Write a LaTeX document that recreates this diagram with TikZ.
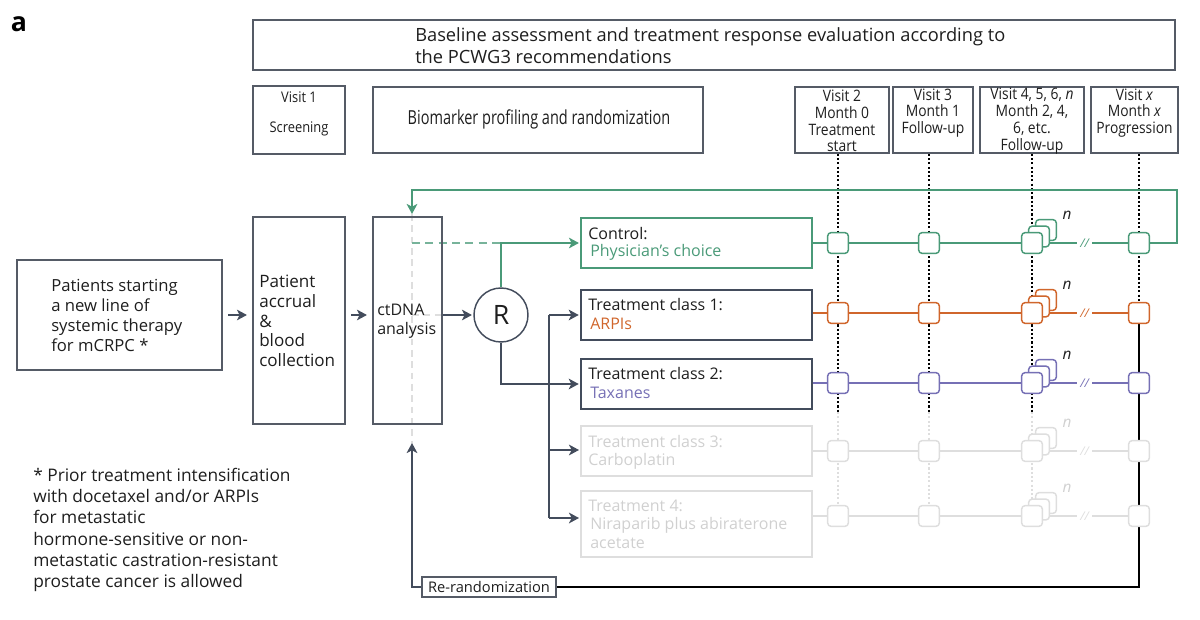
\documentclass[tikz,border=0pt]{standalone}
\usepackage{fontspec}
\setmainfont{Open Sans}
\usepackage{graphicx}
\usetikzlibrary{arrows.meta,fit,backgrounds}
\definecolor{cgreen}{HTML}{4A9A78}
\definecolor{corange}{HTML}{D0662C}
\definecolor{cpurple}{HTML}{7670B5}
\definecolor{cslate}{HTML}{434C5C}
\definecolor{cbox}{HTML}{555B66}
\definecolor{clight}{HTML}{DEDEDE}
\definecolor{clighttext}{HTML}{D0D0D0}
\definecolor{ctext}{HTML}{1E1E1E}
\newcommand\vfont{\fontsize{11.8}{12.6}\selectfont}
\newcommand\tfont{\fontsize{12}{14}\selectfont}
\newcommand\vl[1]{\scalebox{0.88}[1]{#1}}
\newcommand\trow[6]{%
  \node[mk=#1] (#3s3) at (1046,#2-13) {};
  \node[mk=#1] (#3s2) at (1039,#2-6.5) {};
  \node[mk=#1] (#3a) at (838,#2) {};
  \node[mk=#1] (#3b) at (929,#2) {};
  \node[mk=#1] (#3c) at (1032,#2) {};
  \node[mk=#1] (#3d) at (1139,#2) {};
  \node[brk, text=#1] (#3k) at (1084.5,#2) {//};
  \node[ntxt, text=#6] (#3n) at (1067,#2-28) {n};
  \coordinate (#3e) at (1077,#2);
  \coordinate (#3f) at (1092,#2);
  \begin{pgfonlayer}{background}
    \draw[#1, line width=#5] (#4.east |- #3a) -- (#3e) (#3f) -- (#3d);
  \end{pgfonlayer}
}
\begin{document}
\begin{tikzpicture}[x=0.75pt,y=-0.75pt,
  box/.style={draw=cbox, line width=1.1pt, inner sep=0pt},
  txt/.style={inner sep=0pt, align=left, anchor=west, text=ctext},
  ctxt/.style={inner sep=0pt, align=center, text=ctext},
  mk/.style={draw=#1, fill=white, line width=1.1pt, rounded corners=2.5pt, minimum size=15.5pt, inner sep=0pt},
  arr/.style={draw=cslate, line width=1.7pt, -{Stealth[length=7.5pt,width=8pt,inset=2pt]}},
  garr/.style={draw=cgreen, line width=1.5pt, -{Stealth[length=7.5pt,width=8pt,inset=2pt]}},
  dotline/.style={line width=1.6pt, dash pattern=on 1.6pt off 1.6pt},
  brk/.style={inner sep=0pt, font=\fontsize{9}{9}\selectfont\itshape},
  ntxt/.style={inner sep=0pt, font=\fontsize{11.5}{11.5}\selectfont\itshape},
]
\useasboundingbox (0,0) rectangle (1200,620);

% label
\node[inner sep=0pt, font=\fontsize{20}{20}\selectfont\bfseries, text=black] (lbl) at (19,24) {a};

% header boxes
\node[box, fit={(253,20) (1175,70)}] (top) {};
\node[txt, font=\fontsize{13.7}{16.5}\selectfont] (toptxt) at (415,46) {Baseline assessment and treatment response evaluation according to\\the PCWG3 recommendations};
\node[box, fit={(253,86) (345,154)}] (v1) {};
\node[ctxt, font=\fontsize{11}{12}\selectfont] (v1a) at (299,97) {\vl{Visit 1}};
\node[ctxt, font=\fontsize{11}{12}\selectfont] (v1b) at (299,129) {\vl{Screening}};
\node[box, fit={(373,87) (703,153)}] (bio) {};
\node[ctxt, font=\fontsize{14.5}{14.5}\selectfont] (biot) at (539,119) {\scalebox{0.75}[1]{Biomarker profiling and randomization}};
\node[box, fit={(795,87) (889,153)}] (v2) {};
\node[ctxt, font=\vfont] (v2t) at (842,121) {\vl{Visit 2}\\\vl{Month 0}\\\vl{Treatment}\\\vl{start}};
\node[box, fit={(893,87) (973,153)}] (v3) {};
\node[ctxt, font=\vfont] (v3t) at (933,113) {\vl{Visit 3}\\\vl{Month 1}\\\vl{Follow-up}};
\node[box, fit={(980,87) (1084,153)}] (v4) {};
\node[ctxt, font=\vfont] (v4t) at (1032,121) {\vl{Visit 4, 5, 6, \textit{n}}\\\vl{Month 2, 4,}\\\vl{6, etc.}\\\vl{Follow-up}};
\node[box, fit={(1091,87) (1178,153)}] (vx) {};
\node[ctxt, font=\vfont] (vxt) at (1134.5,113) {\vl{Visit \textit{x}}\\\vl{Month \textit{x}}\\\vl{Progression}};

% left boxes
\node[box, fit={(17,260) (222,370)}] (pat) {};
\node[txt, font=\fontsize{12.5}{15}\selectfont] (patt) at (51,315) {Patients starting\\a new line of\\systemic therapy\\for mCRPC *};
\node[box, fit={(253,217) (345,424)}] (acc) {};
\node[txt, font=\fontsize{12.8}{14.8}\selectfont] (acct) at (259,321) {Patient\\accrual\\\&\\blood\\collection};
\node[box, fit={(373,217) (442,424)}] (ct) {};
\node[txt, font=\fontsize{12}{14.3}\selectfont] (ctt) at (377,321) {ctDNA\\analysis};
\node[circle, draw=cslate, line width=1.1pt, minimum size=40.5pt, inner sep=0pt, font=\fontsize{20}{20}\selectfont, text=ctext] (R) at (501,315) {R};

% treatment boxes
\node[draw=cgreen, line width=1.1pt, inner sep=0pt, fit={(581,218) (812,268)}] (ctrl) {};
\node[txt, font=\tfont] (ctrl1) at (588,234) {Control:};
\node[txt, font=\tfont, text=cgreen] (ctrl2) at (590,252) {Physician’s choice};
\node[draw=cslate, line width=1.4pt, inner sep=0pt, fit={(581,290) (812,340)}] (t1) {};
\node[txt, font=\tfont] (t1a) at (588,305) {Treatment class 1:};
\node[txt, font=\tfont, text=corange] (t1b) at (590,324) {ARPIs};
\node[draw=cslate, line width=1.4pt, inner sep=0pt, fit={(581,359) (812,409)}] (t2) {};
\node[txt, font=\tfont] (t2a) at (588,374) {Treatment class 2:};
\node[txt, font=\tfont, text=cpurple] (t2b) at (590,393) {Taxanes};
\node[draw=clight, line width=1pt, inner sep=0pt, fit={(581,426) (812,476)}] (t3) {};
\node[txt, font=\tfont, text=clighttext] (t3a) at (588,442) {Treatment class 3:};
\node[txt, font=\tfont, text=clighttext] (t3b) at (588,461) {Carboplatin};
\node[draw=clight, line width=1pt, inner sep=0pt, fit={(581,491) (812,557)}] (t4) {};
\node[txt, font=\tfont, text=clighttext] (t4a) at (588,506) {Treatment 4:};
\node[txt, font=\tfont, text=clighttext] (t4b) at (590,525) {Niraparib plus abiraterone};
\node[txt, font=\tfont, text=clighttext] (t4c) at (590,543) {acetate};

% re-randomization
\node[box, fit={(422,577) (556,597)}] (rr) {};
\node[ctxt, font=\fontsize{11}{11}\selectfont] (rrt) at (489,587) {Re-randomization};

% footnote
\node[txt, font=\fontsize{13}{16}\selectfont] (foot) at (33,530) {* Prior treatment intensification\\with docetaxel and/or ARPIs\\for metastatic\\hormone-sensitive or non-\\metastatic castration-resistant\\prostate cancer is allowed};

% rows
\trow{cgreen}{243}{g}{ctrl}{1.5pt}{ctext}
\trow{corange}{313}{o}{t1}{1.2pt}{ctext}
\trow{cpurple}{383}{p}{t2}{1.2pt}{ctext}
\trow{clight}{451}{q}{t3}{0.9pt}{clighttext}
\trow{clight}{516}{r}{t4}{0.9pt}{clighttext}

% coordinates
\coordinate (lowy) at (0,412);
\coordinate (cx) at (412,0);
\coordinate (loopR) at (1177,190);
\coordinate (loopL) at (412,190);
\coordinate (ctin) at (412,214);
\coordinate (rrin) at (412,443);
\coordinate (brtop) at (549,315);
\coordinate (br3) at (549,450);
\coordinate (br4) at (549,518);

\begin{pgfonlayer}{background}
  % dotted visit lines
  \draw[dotline] (v2.south -| ga) -- (ga |- lowy);
  \draw[dotline] (v3.south -| gb) -- (gb |- lowy);
  \draw[dotline] (v4.south -| gc) -- (gc |- lowy);
  \draw[dotline, draw=clight] (ga |- lowy) -- (ra);
  \draw[dotline, draw=clight] (gb |- lowy) -- (rb);
  \draw[dotline, draw=clight] (gc |- lowy) -- (rc);
  \draw[dotline] (vx.south -| gd) -- (od);
  \draw[black, line width=1.2pt] (od) -- (od |- rr) -- (rr.east);
  % green loop
  \draw[garr] (gd) -| (loopR) -- (loopL) -- (ctin);
  % dashed inner lines
  \draw[clight, line width=1pt, dash pattern=on 5pt off 3.5pt] (ctin) -- (rrin);
  \draw[clight, line width=1pt, dash pattern=on 5pt off 3.5pt] (cx |- R) -- (ct.east |- R);
  \draw[cgreen!75, line width=1pt, dash pattern=on 6pt off 4pt] (cx |- ctrl) -- (R.north |- ctrl);
  % flow arrows
  \draw[arr, shorten <=4pt, shorten >=4pt] (pat.east |- R) -- (acc.west |- R);
  \draw[arr, shorten <=4pt, shorten >=4pt] (acc.east |- R) -- (ct.west |- R);
  \draw[arr, shorten >=1pt] (ct.east |- R) -- (R.west);
  \draw[garr, shorten >=1pt] (R.north) |- (ctrl.west);
  \draw[arr, shorten >=1pt] (R.south) |- (t2.west);
  \draw[draw=cslate, line width=1.7pt] (brtop) -- (br4);
  \draw[arr, shorten >=1pt] (brtop) -- (t1.west |- brtop);
  \draw[arr, shorten >=1pt] (br3) -- (t3.west |- br3);
  \draw[arr, shorten >=1pt] (br4) -- (t4.west |- br4);
  \draw[arr] (rr.west) -| (rrin);
\end{pgfonlayer}
\end{tikzpicture}
\end{document}
